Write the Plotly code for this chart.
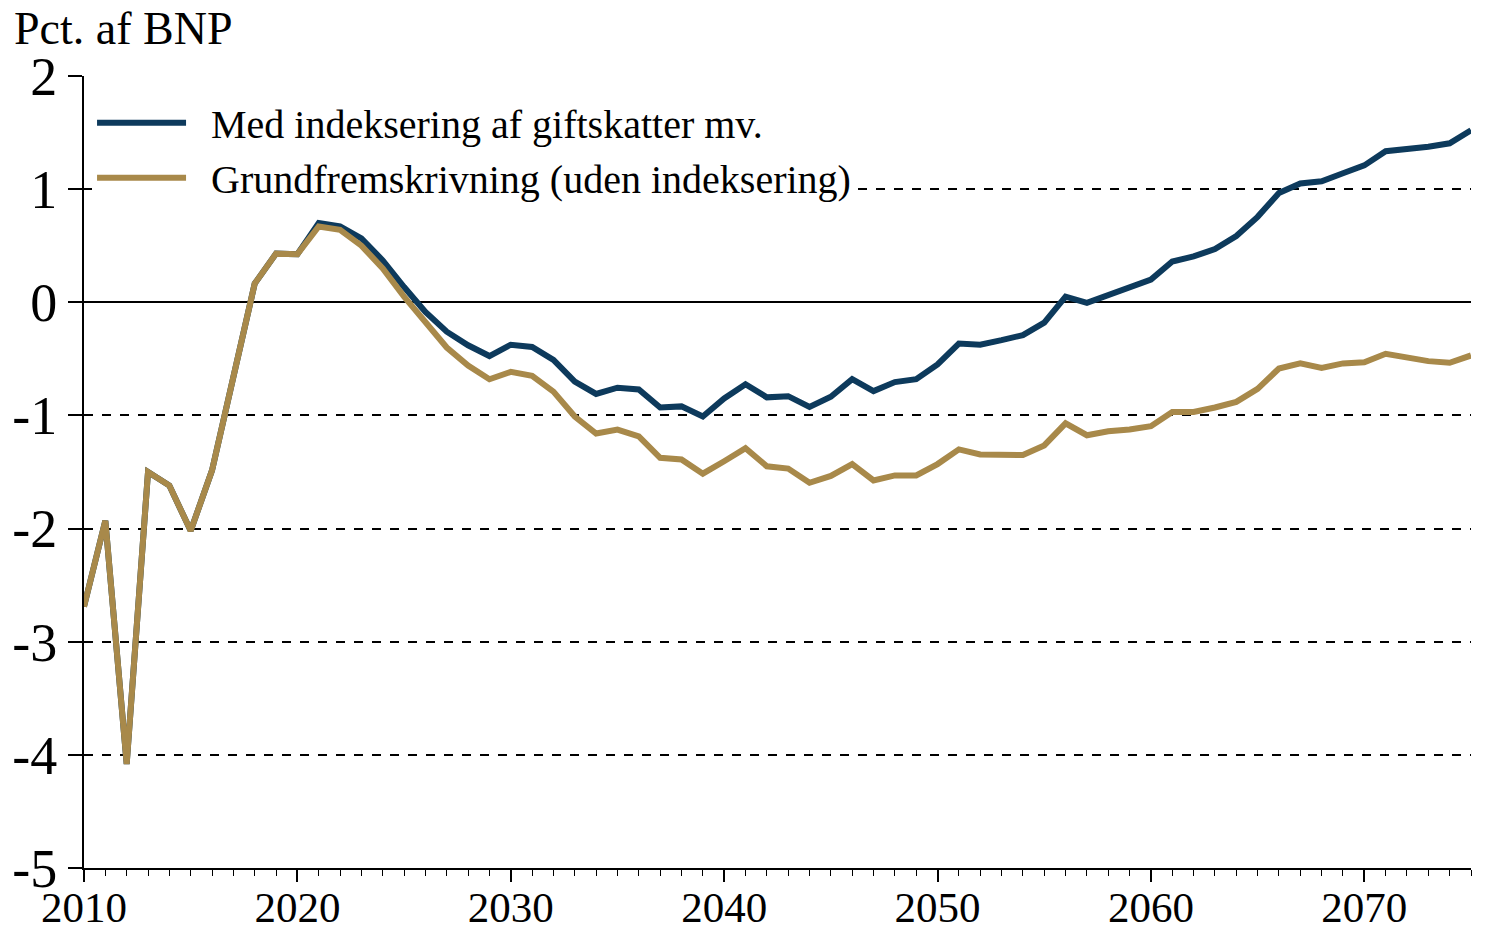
import plotly.graph_objects as go

years = list(range(2010, 2076))

med_indeksering = [
    -2.69, -1.93, -4.08, -1.50, -1.62, -2.02, -1.485, -0.65, 0.165, 0.43,
    0.425, 0.70, 0.67, 0.565, 0.37, 0.135, -0.085, -0.26, -0.38, -0.475,
    -0.375, -0.395, -0.51, -0.70, -0.81, -0.755, -0.77, -0.93, -0.92, -1.01,
    -0.85, -0.725, -0.84, -0.83, -0.925, -0.835, -0.68, -0.785, -0.705, -0.68,
    -0.55, -0.365, -0.375, -0.335, -0.29, -0.18, 0.05, -0.005, 0.06, 0.13,
    0.20, 0.36, 0.405, 0.47, 0.585, 0.755, 0.965, 1.05, 1.07, 1.14,
    1.21, 1.335, 1.35, 1.375, 1.405, 1.52,
]

grundfremskrivning = [
    -2.69, -1.93, -4.08, -1.50, -1.62, -2.02, -1.485, -0.65, 0.165, 0.43,
    0.425, 0.67, 0.64, 0.50, 0.30, 0.05, -0.17, -0.40, -0.56, -0.68,
    -0.615, -0.65, -0.79, -1.01, -1.16, -1.125, -1.185, -1.375, -1.39, -1.515,
    -1.405, -1.29, -1.45, -1.47, -1.595, -1.535, -1.43, -1.575, -1.53, -1.53,
    -1.43, -1.30, -1.345, -1.345, -1.35, -1.265, -1.07, -1.175, -1.14, -1.125,
    -1.095, -0.97, -0.97, -0.93, -0.88, -0.765, -0.585, -0.54, -0.58, -0.54,
    -0.53, -0.455, -0.49, -0.52, -0.535, -0.47,
]

series_names = ["Med indeksering af giftskatter mv.", "Grundfremskrivning (uden indeksering)"]
y_tickvals = [-5, -4, -3, -2, -1, 0, 1, 2]
y_ticktext = ["-5", "-4", "-3", "-2", "-1", "0", "1", "2"]
x_tickvals = [2010, 2020, 2030, 2040, 2050, 2060, 2070]
y_title = "Pct. af BNP"

BLUE = "#0d3a5c"
GOLD = "#a8894a"
FONT = "Liberation Serif"
GAP = "\u2002"

fig = go.Figure()
fig.add_trace(go.Scatter(x=years, y=med_indeksering, mode="lines", name=GAP + series_names[0],
                         line=dict(color=BLUE, width=6)))
fig.add_trace(go.Scatter(x=years, y=grundfremskrivning, mode="lines", name=GAP + series_names[1],
                         line=dict(color=GOLD, width=6)))

# the page body adds an 8px offset, so the figure is 8px smaller than the window
fig.update_layout(
    width=1478, height=926,
    margin=dict(l=76, r=15, t=68, b=66, autoexpand=False),
    paper_bgcolor="white", plot_bgcolor="white",
    font=dict(family=FONT, color="black"),
    showlegend=True,
    legend=dict(x=0.0058, y=0.982, xanchor="left", yanchor="top",
                bgcolor="white", borderwidth=0,
                font=dict(family=FONT, size=40, color="black"),
                itemwidth=89, tracegroupgap=0),
    xaxis=dict(range=[2010, 2075], tickvals=x_tickvals, ticks="outside", ticklen=12,
               tickwidth=1.5, tickcolor="black", showline=True, linecolor="black",
               linewidth=2, showgrid=False, zeroline=False, automargin=False,
               ticklabelstandoff=-12,
               tickfont=dict(family=FONT, size=43, color="black"),
               minor=dict(dtick=1, tick0=2010, ticks="outside", ticklen=6,
                          tickcolor="black", tickwidth=1, showgrid=False)),
    yaxis=dict(range=[-5, 2], tickvals=y_tickvals, ticktext=y_ticktext,
               ticks="outside", ticklen=14, tickwidth=1.5, tickcolor="black",
               showline=True, linecolor="black", linewidth=2, automargin=False,
               showgrid=True, gridcolor="black", griddash="dash", gridwidth=1.5,
               zeroline=True, zerolinecolor="black", zerolinewidth=2,
               tickfont=dict(family=FONT, size=54, color="black")),
    annotations=[dict(text=y_title, xref="paper", yref="paper",
                      x=-0.052, y=1.095, xanchor="left", yanchor="top",
                      showarrow=False, font=dict(family=FONT, size=46, color="black"))],
)

fig.write_html("out.html")
